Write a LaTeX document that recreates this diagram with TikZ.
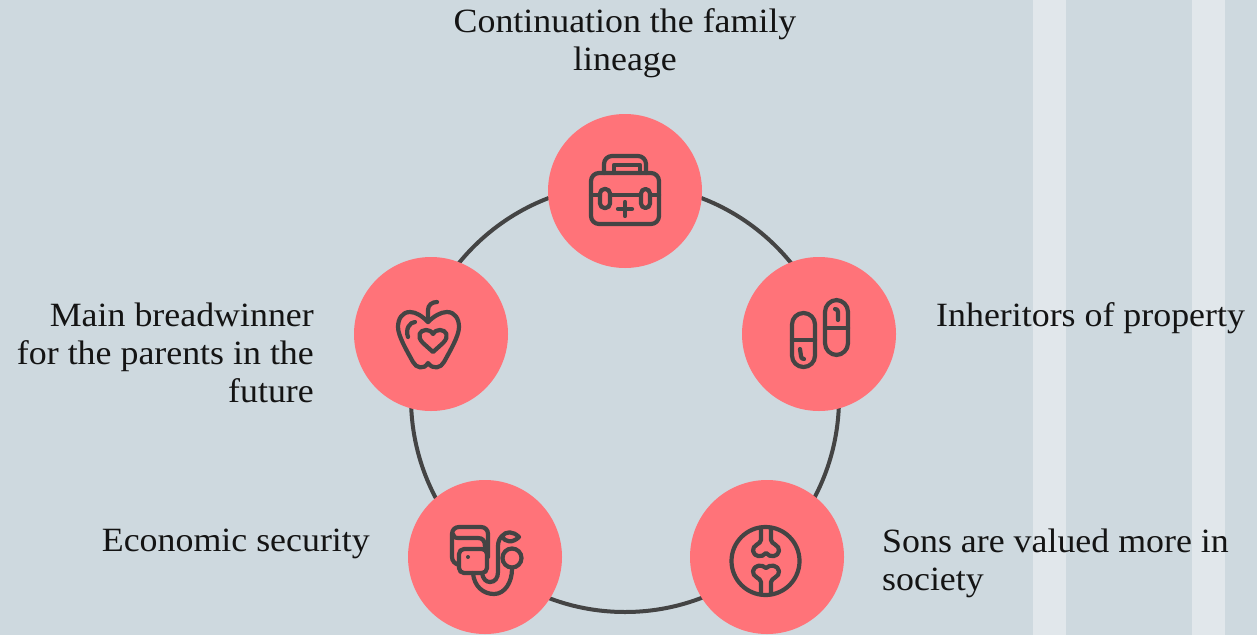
\documentclass[tikz,border=0pt]{standalone}
\usepackage{fontspec}
\setmainfont[FakeStretch=1.055]{Liberation Serif}
\definecolor{bgc}{HTML}{CED9DF}
\definecolor{stripec}{HTML}{E1E7EB}
\definecolor{disc}{HTML}{FF7379}
\definecolor{ink}{HTML}{444444}
\definecolor{txt}{HTML}{141414}
\tikzset{
  disk/.style={circle,fill=disc,minimum size=154pt,inner sep=0pt},
  ico/.style={draw=ink,line width=4.2pt,line cap=round,line join=round},
  lab/.style={text=txt,font=\fontsize{34}{38}\selectfont,inner sep=0pt}
}
\begin{document}
\begin{tikzpicture}[x=1pt,y=-1pt]
\useasboundingbox (0,0) rectangle (1257,635);
\fill[bgc] (0,0) rectangle (1257,635);
\fill[stripec] (1033,0) rectangle (1066,635);
\fill[stripec] (1192,0) rectangle (1225,635);
\draw[ink,line width=4pt] (625,398) circle[radius=214];
\node[disk] (a) at (625,191) {};
\node[disk] (b) at (819,334) {};
\node[disk] (c) at (767,557) {};
\node[disk] (d) at (485,557) {};
\node[disk] (e) at (431,334) {};
% toolbox
\draw[ico,rounded corners=8pt] (591,173) rectangle (659,224);
\draw[ico,rounded corners=8pt] (604,173) -- (604,156) -- (646,156) -- (646,173);
\draw[ico] (614,173) -- (614,165) -- (640,165) -- (640,173);
\draw[ico] (591,195) -- (600,195) (610,195) -- (641,195) (650,195) -- (659,195);
\draw[ico,rounded corners=4.5pt] (600,189) rectangle (610,208);
\draw[ico,rounded corners=4.5pt] (641,189) rectangle (650,208);
\draw[ico] (618,209) -- (632,209) (625,202) -- (625,216);
% pills
\draw[ico,rounded corners=11.4pt] (792,313) rectangle (815,367);
\draw[ico] (792,340) -- (815,340);
\draw[ico] (800,349) -- (801,356) .. controls (801,358) and (802,359) .. (804,359);
\draw[ico,rounded corners=11.9pt] (825,300) rectangle (848,355);
\draw[ico] (825,328) -- (848,328);
\draw[ico] (835,309) .. controls (837,309) and (838,310) .. (838,312) -- (838,320);
% apple
\draw[ico] (428,322) .. controls (422,316) and (416,312) .. (410,312) .. controls (402,312) and (398,319) .. (398,327)
  .. controls (398,336) and (407,351) .. (413,362) .. controls (416,368) and (424,370) .. (428,363)
  .. controls (433,370) and (441,368) .. (444,362) .. controls (450,351) and (459,336) .. (459,327)
  .. controls (459,319) and (455,312) .. (447,312) .. controls (441,312) and (434,316) .. (428,322);
\draw[ico] (428,322) -- (428,310) .. controls (428,305) and (432,302) .. (437,302);
\draw[ico] (415,322) .. controls (410,322) and (405,329) .. (408,337);
\draw[ico] (433,352) -- (423,343) .. controls (416,336) and (420,330) .. (426,330) .. controls (429,330) and (431,331) .. (433,334) .. controls (435,331) and (437,330) .. (440,330) .. controls (446,330) and (450,336) .. (443,343) -- cycle;
% cuff
\draw[ico] (459,565) .. controls (455,564) and (452,561) .. (452,557) -- (452,534) .. controls (452,530) and (455,527) .. (459,527) -- (481,527) .. controls (485,527) and (488,530) .. (488,534) -- (488,557);
\draw[ico] (453,534) .. controls (453,537) and (455,538) .. (459,538) -- (478,538) .. controls (483,538) and (485,541) .. (485,547);
\draw[ico,rounded corners=5pt] (459,549) rectangle (487,573);
\fill[ink] (468,557) circle[radius=2];
\draw[ico] (473,573) .. controls (474,586) and (483,594) .. (494,594) .. controls (505,594) and (512,582) .. (512,569);
\draw[ico] (512,558) circle[radius=9.5];
\draw[ico] (482,573) .. controls (483,579) and (486,582) .. (490,582) .. controls (495,582) and (498,578) .. (498,572) -- (498,546) .. controls (498,541) and (500,538) .. (502,536);
\draw[ico] (502,536) .. controls (506,531) and (513,531) .. (519,537) .. controls (513,543) and (505,543) .. (502,536) -- cycle;
% joint
\draw[ico] (765.5,561) circle[radius=34];
\draw[ico] (761,528) -- (761,540) .. controls (761,544) and (752,545) .. (753,551) .. controls (754,557) and (762,558) .. (766,553) .. controls (770,558) and (778,557) .. (779,551) .. controls (780,545) and (771,544) .. (771,540) -- (771,528);
\draw[ico] (761,594) -- (761,582) .. controls (761,578) and (752,577) .. (753,571) .. controls (754,565) and (762,564) .. (766,568) .. controls (770,564) and (778,565) .. (779,571) .. controls (780,577) and (771,578) .. (771,582) -- (771,594);
% labels
\node[lab,align=center] (ta) at (625,43) {Continuation the family\\lineage};
\node[lab,anchor=west] (tb) at (936,318) {Inheritors of property};
\node[lab,anchor=west,align=left] (tc) at (882,563) {Sons are valued more in\\society};
\node[lab,anchor=east] (td) at (370,544) {Economic security};
\node[lab,anchor=east,align=right] (te) at (314,353) {Main breadwinner\\for the parents in the\\future};
\end{tikzpicture}
\end{document}
